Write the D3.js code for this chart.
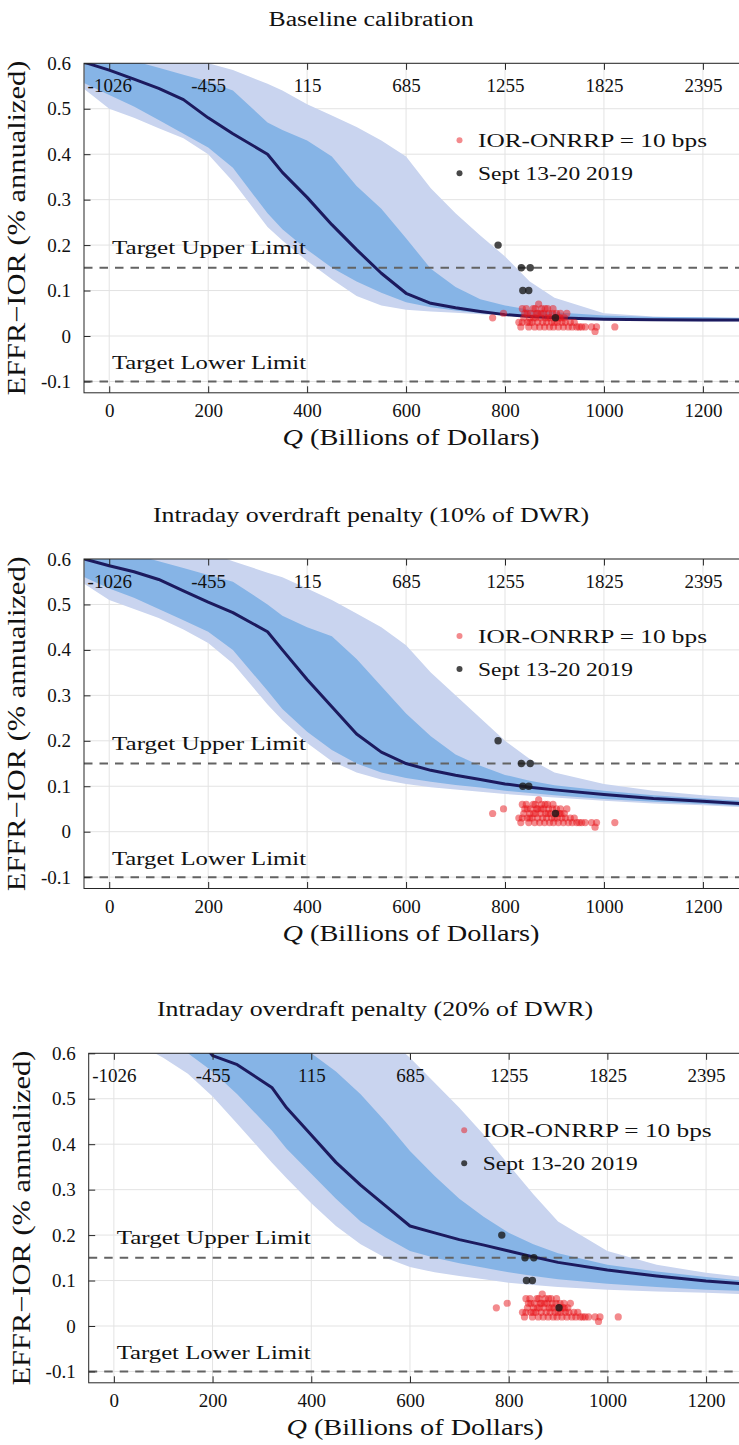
<!DOCTYPE html>
<html><head><meta charset="utf-8">
<script src="https://cdn.jsdelivr.net/npm/d3@7"></script>
<style>
body{margin:0;background:#fff}
svg{display:block}
text{font-family:"Liberation Serif","Times New Roman",serif;fill:#111}
</style>
</head><body>
<svg id="chart" width="739" height="1445"></svg>
<script>
// ---------------- DATA ----------------
const titles = ["Baseline calibration",
  "Intraday overdraft penalty (10% of DWR)",
  "Intraday overdraft penalty (20% of DWR)"];
const qGrid = [-50,0,50,100,150,200,250,320,350,400,450,500,550,600,650,700,750,800,850,900,1000,1100,1200,1275];

// Panel 1 (baseline)
const p1Median  = [0.602,0.585,0.565,0.545,0.52,0.48,0.445,0.40,0.36,0.305,0.245,0.19,0.138,0.094,0.072,0.062,0.054,0.047,0.043,0.040,0.037,0.036,0.035,0.035];
const p1InnerHi = [0.64,0.625,0.605,0.59,0.575,0.56,0.54,0.47,0.453,0.43,0.395,0.33,0.28,0.215,0.148,0.108,0.081,0.067,0.058,0.052,0.045,0.042,0.041,0.040];
const p1InnerLo = [0.556,0.53,0.505,0.475,0.445,0.415,0.37,0.27,0.235,0.19,0.15,0.12,0.095,0.074,0.063,0.056,0.050,0.045,0.041,0.038,0.035,0.034,0.033,0.033];
const p1OuterHi = [0.75,0.72,0.69,0.66,0.63,0.60,0.585,0.555,0.54,0.51,0.485,0.46,0.43,0.395,0.325,0.27,0.221,0.175,0.12,0.084,0.05,0.043,0.040,0.039];
const p1OuterLo = [0.543,0.50,0.48,0.457,0.435,0.40,0.34,0.24,0.21,0.165,0.125,0.088,0.067,0.058,0.054,0.051,0.048,0.045,0.042,0.039,0.035,0.033,0.032,0.032];

// Panel 2 (10% of DWR)
const p2Median  = [0.60,0.585,0.572,0.555,0.53,0.505,0.482,0.44,0.40,0.335,0.275,0.215,0.175,0.15,0.135,0.124,0.115,0.105,0.098,0.092,0.082,0.073,0.067,0.062];
const p2InnerHi = [0.64,0.625,0.61,0.595,0.58,0.565,0.55,0.50,0.475,0.45,0.43,0.38,0.32,0.26,0.21,0.17,0.145,0.125,0.112,0.102,0.09,0.08,0.073,0.068];
const p2InnerLo = [0.56,0.535,0.515,0.49,0.465,0.44,0.40,0.31,0.27,0.22,0.18,0.15,0.13,0.118,0.11,0.103,0.097,0.09,0.085,0.08,0.072,0.066,0.061,0.057];
const p2OuterHi = [0.76,0.73,0.70,0.67,0.64,0.615,0.595,0.57,0.56,0.535,0.51,0.48,0.45,0.41,0.35,0.30,0.25,0.20,0.16,0.13,0.105,0.09,0.08,0.075];
const p2OuterLo = [0.545,0.51,0.49,0.47,0.445,0.415,0.37,0.28,0.245,0.195,0.155,0.13,0.115,0.105,0.098,0.093,0.088,0.083,0.079,0.075,0.068,0.062,0.058,0.054];

// Panel 3 (20% of DWR)
const p3Median  = [0.90,0.85,0.80,0.72,0.66,0.595,0.575,0.525,0.48,0.42,0.36,0.31,0.265,0.22,0.205,0.19,0.178,0.165,0.152,0.14,0.123,0.11,0.099,0.093];
const p3InnerHi = [1.10,1.05,1.00,0.95,0.90,0.85,0.80,0.72,0.68,0.60,0.56,0.51,0.45,0.385,0.33,0.28,0.24,0.205,0.18,0.16,0.135,0.12,0.108,0.10];
const p3InnerLo = [0.80,0.75,0.70,0.64,0.60,0.56,0.51,0.43,0.39,0.335,0.28,0.23,0.195,0.165,0.15,0.138,0.128,0.118,0.11,0.103,0.093,0.086,0.08,0.077];
const p3OuterHi = [1.30,1.25,1.20,1.15,1.10,1.05,1.00,0.90,0.85,0.78,0.73,0.68,0.64,0.59,0.535,0.48,0.42,0.355,0.29,0.23,0.165,0.135,0.117,0.108];
const p3OuterLo = [0.70,0.66,0.62,0.59,0.555,0.505,0.445,0.36,0.325,0.27,0.22,0.18,0.15,0.13,0.118,0.11,0.103,0.095,0.09,0.086,0.08,0.076,0.073,0.07];

// Observations: IOR-ONRRP = 10 bps
const redQ = [775,797,828,832,835,838,840,843,845,848,850,852,855,857,860,862,864,866,868,870,872,874,876,878,880,882,884,886,888,890,892,894,896,898,900,902,904,906,908,910,912,915,918,920,922,925,928,932,936,940,945,950,955,962,975,982,985,1022,845,858,873,887,897,861,866,881,835,850,905,913];
const redV = [0.04,0.05,0.03,0.02,0.03,0.04,0.05,0.06,0.03,0.02,0.04,0.05,0.03,0.06,0.02,0.04,0.05,0.03,0.07,0.02,0.04,0.06,0.03,0.05,0.02,0.04,0.03,0.06,0.05,0.02,0.04,0.03,0.05,0.02,0.03,0.04,0.05,0.03,0.02,0.04,0.05,0.03,0.02,0.04,0.03,0.05,0.02,0.03,0.02,0.03,0.02,0.02,0.02,0.02,0.02,0.01,0.02,0.02,0.05,0.04,0.05,0.04,0.06,0.06,0.05,0.06,0.06,0.03,0.04,0.04];
// Sept 13-20 2019
const blackQ = [786,833,851,836,848,902];
const blackV = [0.20,0.15,0.15,0.10,0.10,0.04];

const xTicks = [0,200,400,600,800,1000,1200];
const xTickLabels = ["0","200","400","600","800","1000","1200"];
const topTickLabels = ["-1026","-455","115","685","1255","1825","2395"];
const yTicks = [-0.1,0,0.1,0.2,0.3,0.4,0.5,0.6];
const yTickLabels = ["-0.1","0","0.1","0.2","0.3","0.4","0.5","0.6"];
const upperLimit = 0.15, lowerLimit = -0.1;
const legendLabels = ["IOR-ONRRP = 10 bps","Sept 13-20 2019"];
const limitLabels = ["Target Upper Limit","Target Lower Limit"];
const yLabel = "EFFR\u2212IOR (% annualized)";

// ---------------- LAYOUT ----------------
const series = [
  [p1Median,p1InnerLo,p1InnerHi,p1OuterLo,p1OuterHi],
  [p2Median,p2InnerLo,p2InnerHi,p2OuterLo,p2OuterHi],
  [p3Median,p3InnerLo,p3InnerHi,p3OuterLo,p3OuterHi]
];
const layout = [
  {left:84, top:63.3, width:656, titleX:371},
  {left:84, top:559, width:656, titleX:371},
  {left:88.7, top:1053.3, width:654.4, titleX:375}
];
const H = 329.5;
const svg = d3.select("#chart");
const C = {outer:"#c9d4ef", inner:"#86b4e6", median:"#1c1a5e", grid:"#e3e3e3", axis:"#262626",
           dash:"#636363", red:"#e8161b", black:"#1a1a1a"};

function fitText(sel, w){ sel.attr("textLength", w).attr("lengthAdjust","spacingAndGlyphs"); return sel; }

layout.forEach((L, i) => {
  const [med, inLo, inHi, outLo, outHi] = series[i];
  const x = d3.scaleLinear().domain([-51, 1275]).range([L.left, L.left + L.width]);
  const y = d3.scaleLinear().domain([-0.125, 0.6]).range([L.top + H, L.top]);
  const g = svg.append("g");
  const cid = "clip" + i;
  g.append("clipPath").attr("id", cid).append("rect")
    .attr("x", L.left).attr("y", L.top).attr("width", L.width).attr("height", H);

  // grid
  g.append("g").selectAll("line").data(xTicks).join("line")
    .attr("x1", d => x(d)).attr("x2", d => x(d)).attr("y1", L.top).attr("y2", L.top + H)
    .attr("stroke", C.grid).attr("stroke-width", 1);
  g.append("g").selectAll("line").data(yTicks).join("line")
    .attr("y1", d => y(d)).attr("y2", d => y(d)).attr("x1", L.left).attr("x2", L.left + L.width)
    .attr("stroke", C.grid).attr("stroke-width", 1);

  const rows = qGrid.map((q, k) => ({q, med: med[k], inLo: inLo[k], inHi: inHi[k], outLo: outLo[k], outHi: outHi[k]}));
  const plot = g.append("g").attr("clip-path", `url(#${cid})`);
  plot.append("path").datum(rows).attr("fill", C.outer)
    .attr("d", d3.area().x(d => x(d.q)).y0(d => y(d.outLo)).y1(d => y(d.outHi)));
  plot.append("path").datum(rows).attr("fill", C.inner)
    .attr("d", d3.area().x(d => x(d.q)).y0(d => y(d.inLo)).y1(d => y(d.inHi)));

  // dashed target lines
  plot.selectAll("line.lim").data([upperLimit, lowerLimit]).join("line").attr("class","lim")
    .attr("x1", L.left).attr("x2", L.left + L.width).attr("y1", d => y(d)).attr("y2", d => y(d))
    .attr("stroke", C.dash).attr("stroke-width", 2).attr("stroke-dasharray", "8.5,7");

  plot.append("path").datum(rows).attr("fill", "none").attr("stroke", C.median).attr("stroke-width", 3)
    .attr("stroke-linejoin","round")
    .attr("d", d3.line().x(d => x(d.q)).y(d => y(d.med)));

  // scatter
  plot.append("g").selectAll("circle").data(redQ.map((q, k) => [q, redV[k]])).join("circle")
    .attr("cx", d => x(d[0])).attr("cy", d => y(d[1])).attr("r", 3.6)
    .attr("fill", C.red).attr("fill-opacity", 0.5);
  plot.append("g").selectAll("circle").data(blackQ.map((q, k) => [q, blackV[k]])).join("circle")
    .attr("cx", d => x(d[0])).attr("cy", d => y(d[1])).attr("r", 3.7)
    .attr("fill", C.black).attr("fill-opacity", 0.8);

  // limit labels
  fitText(g.append("text").attr("x", L.left + 28).attr("y", y(0.193) + 6).attr("font-size", 19).text(limitLabels[0]), 194);
  fitText(g.append("text").attr("x", L.left + 28).attr("y", y(-0.06) + 6).attr("font-size", 19).text(limitLabels[1]), 194);

  // legend
  g.append("circle").attr("cx", L.left + 375.5).attr("cy", L.top + 77).attr("r", 3).attr("fill", C.red).attr("fill-opacity", 0.5);
  g.append("circle").attr("cx", L.left + 375.5).attr("cy", L.top + 110).attr("r", 3).attr("fill", C.black).attr("fill-opacity", 0.8);
  fitText(g.append("text").attr("x", L.left + 394).attr("y", L.top + 83.5).attr("font-size", 19).text(legendLabels[0]), 229);
  fitText(g.append("text").attr("x", L.left + 394).attr("y", L.top + 116.5).attr("font-size", 19).text(legendLabels[1]), 155);

  // axes box
  g.append("rect").attr("x", L.left).attr("y", L.top).attr("width", L.width).attr("height", H)
    .attr("fill", "none").attr("stroke", C.axis).attr("stroke-width", 1);

  // bottom axis (ticks inside)
  const xb = d3.axisBottom(x).tickValues(xTicks).tickFormat((d, k) => xTickLabels[k]).tickSizeInner(-6.5).tickSizeOuter(0).tickPadding(11);
  const gxb = g.append("g").attr("transform", `translate(0,${L.top + H})`).call(xb);
  // top axis (ticks inside, labels inside plot)
  const xt = d3.axisTop(x).tickValues(xTicks).tickFormat((d, k) => topTickLabels[k]).tickSizeInner(-6.5).tickSizeOuter(0);
  const gxt = g.append("g").attr("transform", `translate(0,${L.top})`).call(xt);
  // left axis
  const yl = d3.axisLeft(y).tickValues(yTicks).tickFormat((d, k) => yTickLabels[k]).tickSizeInner(-6.5).tickSizeOuter(0).tickPadding(13);
  const gyl = g.append("g").attr("transform", `translate(${L.left},0)`).call(yl);
  [gxb, gxt, gyl].forEach(a => {
    a.select(".domain").remove();
    a.selectAll("line").attr("stroke", C.axis);
    a.selectAll("text").attr("font-family", '"Liberation Serif",serif').attr("font-size", 19).attr("fill", "#111");
  });
  gxt.selectAll("text").attr("y", 28.5).attr("dy", "0");

  // axis titles
  const xl = g.append("text").attr("x", L.left + L.width / 2 - 1).attr("y", L.top + H + 52).attr("text-anchor", "middle").attr("font-size", 24);
  xl.append("tspan").attr("font-style", "italic").text("Q");
  xl.append("tspan").text(" (Billions of Dollars)");
  fitText(xl, 257);
  fitText(g.append("text").attr("transform", `translate(${L.left - 59},${L.top + H / 2}) rotate(-90)`)
    .attr("text-anchor", "middle").attr("font-size", 25).text(yLabel), 335);

  // panel title
  fitText(g.append("text").attr("x", L.titleX).attr("y", L.top - 37).attr("text-anchor", "middle").attr("font-size", 20).text(titles[i]), i === 0 ? 205 : 436);
});
</script>
</body></html>
